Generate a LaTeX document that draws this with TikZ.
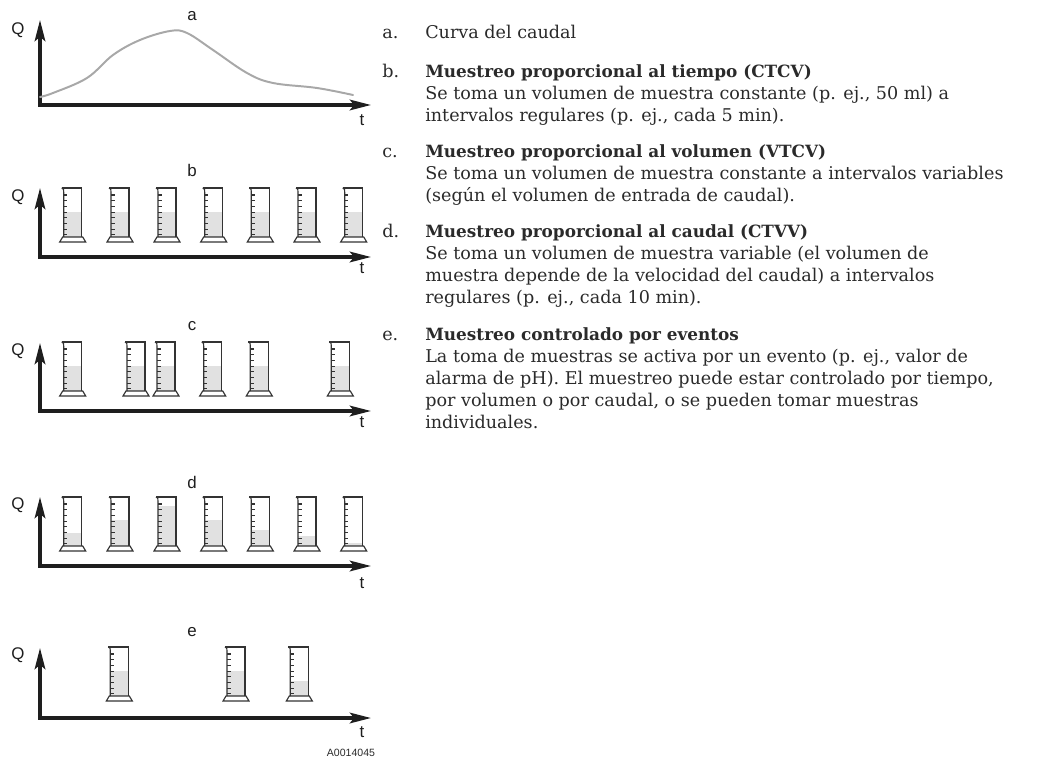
\documentclass[tikz,border=0pt]{standalone}
\usepackage{fontspec}
\setmainfont{DejaVu Serif}
\newfontfamily\axisfont{Liberation Sans}
\usetikzlibrary{arrows.meta}
\definecolor{glassline}{HTML}{333333}
\definecolor{liquid}{HTML}{E1E1E1}
\definecolor{flowgray}{HTML}{A8A8A8}
\definecolor{axisdark}{HTML}{1E1E1E}
\definecolor{textdark}{HTML}{2A2A2A}

% graduated cylinder: body left x, body top y, liquid height (px)
\newcommand{\gradcyl}[3]{%
  \fill[liquid] (#1,#2+49) rectangle (#1+18,#2+49-#3);
  \draw[glass] (#1-2,#2) -- (#1+18,#2) -- (#1+18,#2+49);
  \draw[glass] (#1-2,#2) .. controls (#1,#2+1) .. (#1,#2+4) -- (#1,#2+49);
  \draw[glass] (#1-1,#2+49) -- (#1+19,#2+49) -- (#1+22,#2+54) -- (#1-4,#2+54) -- cycle;
  \foreach \k in {0,...,7} \draw[glass] (#1,#2+7+\k*5.7) -- ++(3.5,0);
}

\begin{document}
\begin{tikzpicture}[x=0.025cm, y=-0.025cm,
  axis/.style={draw=axisdark, line width=2.4pt, line join=miter,
    {Stealth[length=15pt,width=7.5pt,inset=3pt]}-{Stealth[length=15pt,width=7.5pt,inset=3pt]}},
  glass/.style={draw=glassline, line width=0.8pt},
  axlabel/.style={font=\axisfont\fontsize{12}{14}\selectfont, text=axisdark, inner sep=0pt},
  itemlbl/.style={font=\fontsize{12.5}{14}\selectfont, text=textdark, anchor=base west, inner sep=0pt},
  itemhead/.style={itemlbl, font=\fontsize{12}{14}\selectfont\bfseries},
]
\useasboundingbox (0,0) rectangle (1043,760);

% axes of the five panels: name/axis y/arrow top/Q y/t y/letter y
\foreach \p/\ay/\ty/\qy/\tty/\ly in {a/105/20/30/120/16, b/257/188/197/268/170,
    c/411/343/351/422/326, d/566/497/505/583/482, e/718/648/655/732/632} {
  \coordinate (o\p) at (40,\ay);
  \coordinate (yt\p) at (40,\ty);
  \coordinate (xt\p) at (371,\ay);
  \draw[axis] (yt\p) -- (o\p) -- (xt\p);
  \node[axlabel] (q\p) at (18,\qy) {Q};
  \node[axlabel] (t\p) at (362,\tty) {t};
  \node[axlabel] (lab\p) at (192,\ly) {\p};
}

% flow curve
\draw[flowgray, line width=1.4pt, line cap=round] plot[smooth, tension=0.6] coordinates {
  (40,97) (53,93) (87,78) (113,55) (140,40) (170,31) (187,33) (213,50)
  (247,73) (273,83) (317,88) (353,95)};

% b: constant volume, constant time
\foreach \cx in {63.7,111,158,204.7,251.3,298,344.7} {\gradcyl{\cx}{188}{25}}
% c: constant volume, variable time
\foreach \cx in {63.7,127,157,203.7,250.3,331.3} {\gradcyl{\cx}{342}{25}}
% d: variable volume, constant time
\foreach \cx/\h in {63.7/13,111/26,158/40,204.7/26,251.3/16,298/10,344.7/3} {\gradcyl{\cx}{497}{\h}}
% e: event controlled
\foreach \cx/\h in {110.3/25,227/25,290.3/15} {\gradcyl{\cx}{647}{\h}}

\node[font=\axisfont\fontsize{7.5}{8}\selectfont, text=textdark, inner sep=0pt] (code) at (351,753) {A0014045};

% legend text
\foreach \n/\yy in {a/39,b/78,c/158,d/238,e/340}
  \node[itemlbl] (i\n) at (382,\yy) {\n.};
\node[itemlbl] (ha) at (425,39) {Curva del caudal};
\node[itemhead] (hb) at (425,78) {Muestreo proporcional al tiempo (CTCV)};
\node[itemhead] (hc) at (425,158) {Muestreo proporcional al volumen (VTCV)};
\node[itemhead] (hd) at (425,238) {Muestreo proporcional al caudal (CTVV)};
\node[itemhead] (he) at (425,340) {Muestreo controlado por eventos};
\foreach \n/\yy/\txt in {
  1/100/{Se toma un volumen de muestra constante (p. ej., 50 ml) a},
  2/122/{intervalos regulares (p. ej., cada 5 min).},
  3/180/{Se toma un volumen de muestra constante a intervalos variables},
  4/202/{(según el volumen de entrada de caudal).},
  5/260/{Se toma un volumen de muestra variable (el volumen de},
  6/282/{muestra depende de la velocidad del caudal) a intervalos},
  7/304/{regulares (p. ej., cada 10 min).},
  8/362/{La toma de muestras se activa por un evento (p. ej., valor de},
  9/384/{alarma de pH). El muestreo puede estar controlado por tiempo,},
  10/406/{por volumen o por caudal, o se pueden tomar muestras},
  11/428/{individuales.}}
  \node[itemlbl] (l\n) at (425,\yy) {\txt};
\end{tikzpicture}
\end{document}
